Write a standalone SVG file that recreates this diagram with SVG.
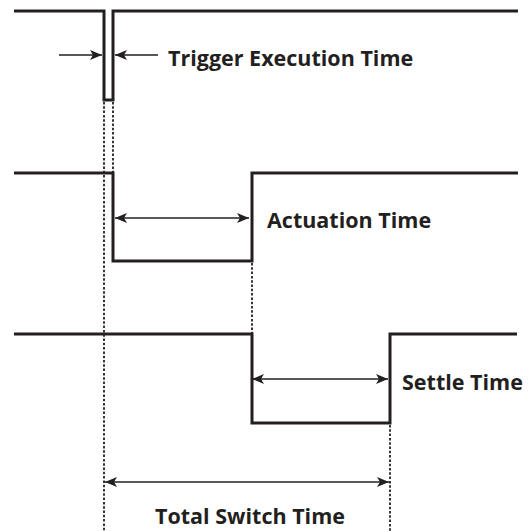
<svg xmlns="http://www.w3.org/2000/svg" width="530" height="531" viewBox="0 0 530 531">
<defs>
<marker id="ah" viewBox="0 0 12 10" refX="12" refY="5" markerWidth="12" markerHeight="10" markerUnits="userSpaceOnUse" orient="auto-start-reverse">
<path d="M0,0 L12,5 L0,10 L3,5 Z" fill="#231f20"/>
</marker>
</defs>
<style>
.wave{fill:none;stroke:#231f20;stroke-width:3;stroke-linejoin:miter}
.dot{fill:none;stroke:#231f20;stroke-width:1.8;stroke-dasharray:2.5,1.8}
.arr{fill:none;stroke:#231f20;stroke-width:1.6}
.lbl{font-family:"Open Sans","Liberation Sans",sans-serif;font-weight:bold;font-size:21.5px;fill:#231f20}
</style>
<g id="trigger">
<path class="wave" d="M14,11 H104 V100 H113 V11 H518"/>
</g>
<g id="actuation">
<path class="wave" d="M14,173 H113 V261 H252 V173 H518"/>
</g>
<g id="settle">
<path class="wave" d="M14,334 H252 V423 H390 V334 H517"/>
</g>
<g id="connectors">
<line class="dot" x1="104" y1="102" x2="104" y2="531"/>
<line class="dot" x1="113" y1="102" x2="113" y2="172"/>
<line class="dot" x1="252" y1="263" x2="252" y2="333"/>
<line class="dot" x1="390" y1="425" x2="390" y2="531"/>
<line class="arr" x1="59" y1="55" x2="102" y2="55" marker-end="url(#ah)"/>
<line class="arr" x1="158" y1="55" x2="115" y2="55" marker-end="url(#ah)"/>
<line class="arr" x1="115" y1="218" x2="249" y2="218" marker-start="url(#ah)" marker-end="url(#ah)"/>
<line class="arr" x1="252" y1="379" x2="388" y2="379" marker-start="url(#ah)" marker-end="url(#ah)"/>
<line class="arr" x1="105" y1="482" x2="389" y2="482" marker-start="url(#ah)" marker-end="url(#ah)"/>
</g>
<g id="labels">
<text class="lbl" x="168" y="66">Trigger Execution Time</text>
<text class="lbl" x="267" y="228">Actuation Time</text>
<text class="lbl" x="402" y="390">Settle Time</text>
<text class="lbl" x="250" y="524" text-anchor="middle">Total Switch Time</text>
</g>
</svg>
